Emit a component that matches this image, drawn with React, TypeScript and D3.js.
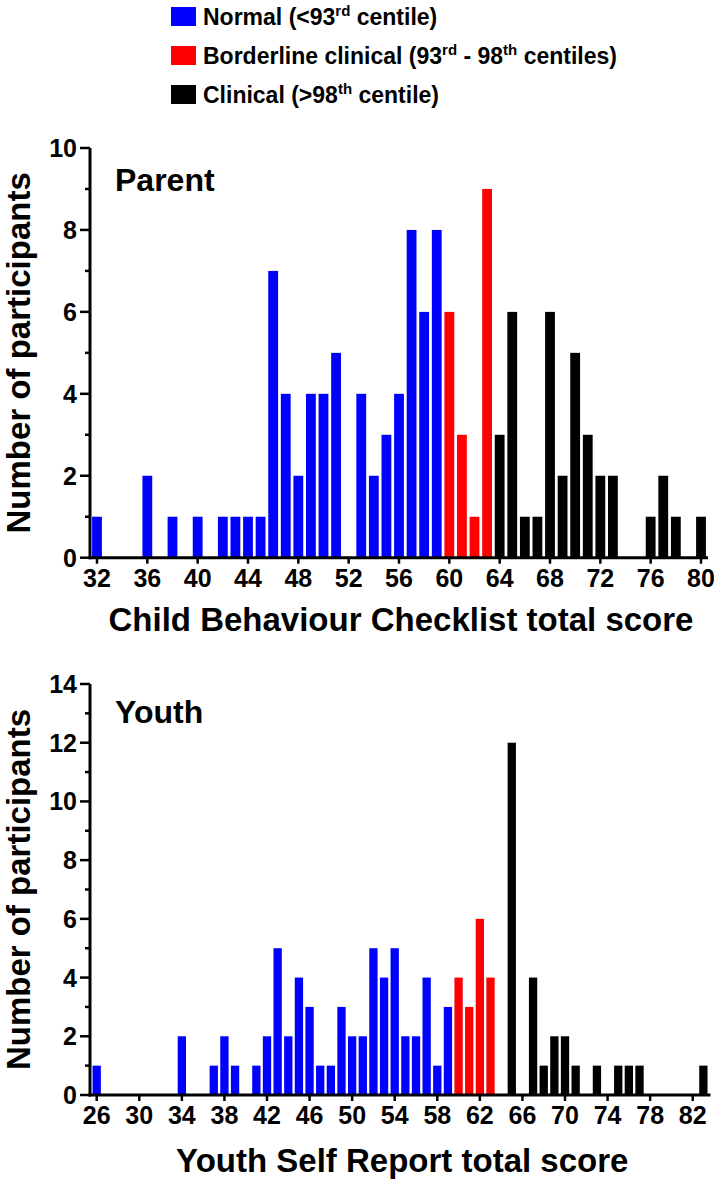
import React from "react";
import * as d3 from "d3";

// ---------- DATA ----------
const parentScore = [32, 36, 38, 40, 42, 43, 44, 45, 46, 47, 48, 49, 50, 51, 53, 54, 55, 56, 57, 58, 59, 60, 61, 62, 63, 64, 65, 66, 67, 68, 69, 70, 71, 72, 73, 76, 77, 78, 80];
const parentCount = [1, 2, 1, 1, 1, 1, 1, 1, 7, 4, 2, 4, 4, 5, 4, 2, 3, 4, 8, 6, 8, 6, 3, 1, 9, 3, 6, 1, 1, 6, 2, 5, 3, 2, 2, 1, 2, 1, 1];
const parentXTicks = [32, 36, 40, 44, 48, 52, 56, 60, 64, 68, 72, 76, 80];
const parentYTicks = [0, 2, 4, 6, 8, 10];
const parentBorderlineFrom = 60;
const parentClinicalFrom = 64;

const youthScore = [26, 34, 37, 38, 39, 41, 42, 43, 44, 45, 46, 47, 48, 49, 50, 51, 52, 53, 54, 55, 56, 57, 58, 59, 60, 61, 62, 63, 65, 67, 68, 69, 70, 71, 73, 75, 76, 77, 83];
const youthCount = [1, 2, 1, 2, 1, 1, 2, 5, 2, 4, 3, 1, 1, 3, 2, 2, 5, 4, 5, 2, 2, 4, 1, 3, 4, 3, 6, 4, 12, 4, 1, 2, 2, 1, 1, 1, 1, 1, 1];
const youthXTicks = [26, 30, 34, 38, 42, 46, 50, 54, 58, 62, 66, 70, 74, 78, 82];
const youthYTicks = [0, 2, 4, 6, 8, 10, 12, 14];
const youthBorderlineFrom = 60;
const youthClinicalFrom = 64;

const categoryNames = ["Normal", "Borderline clinical", "Clinical"];
const categoryColors = ["#0000FF", "#FF0000", "#000000"];

const FONT = "'Liberation Sans', Arial, Helvetica, sans-serif";

type PanelProps = {
  label: string;
  xTitle: string;
  scores: number[];
  counts: number[];
  xTicks: number[];
  yTicks: number[];
  borderlineFrom: number;
  clinicalFrom: number;
  xDomain: [number, number];
  xRight: number;
  yMax: number;
  top: number;
  bottom: number;
  labelBaseline: number;
  xTickBaseline: number;
  xTitleBaseline: number;
};

const LEFT = 90;

function Panel(p: PanelProps) {
  const x = d3.scaleLinear().domain(p.xDomain).range([LEFT, p.xRight]);
  const y = d3.scaleLinear().domain([0, p.yMax]).range([p.bottom, p.top]);
  const step = x(1) - x(0);
  const bw = step * 0.78;
  const cat = (s: number) => (s >= p.clinicalFrom ? 2 : s >= p.borderlineFrom ? 1 : 0);
  const minor = d3.range(1, p.yMax, 2);
  const [x0, x1] = x.range();
  return (
    <g>
      {p.scores.map((s, i) => (
        <rect
          key={s}
          x={x(s) - bw / 2}
          y={y(p.counts[i])}
          width={bw}
          height={y(0) - y(p.counts[i])}
          fill={categoryColors[cat(s)]}
        />
      ))}
      <line x1={LEFT} x2={LEFT} y1={p.top} y2={p.bottom + 1.5} stroke="#000" strokeWidth={3} />
      <line x1={LEFT - 1.5} x2={x1} y1={p.bottom} y2={p.bottom} stroke="#000" strokeWidth={3} />
      {p.yTicks.map((t) => (
        <g key={"y" + t}>
          <line x1={LEFT - 10} x2={LEFT} y1={y(t)} y2={y(t)} stroke="#000" strokeWidth={2.5} />
          <text x={77} y={y(t)} dy="0.36em" textAnchor="end" fontSize={25} fontWeight="bold" fontFamily={FONT}>
            {t}
          </text>
        </g>
      ))}
      {minor.map((t) => (
        <line key={"m" + t} x1={LEFT - 5} x2={LEFT} y1={y(t)} y2={y(t)} stroke="#000" strokeWidth={2.5} />
      ))}
      {p.xTicks.map((t) => (
        <g key={"x" + t}>
          <line x1={x(t)} x2={x(t)} y1={p.bottom} y2={p.bottom + 6} stroke="#000" strokeWidth={2.5} />
          <text x={x(t)} y={p.xTickBaseline} textAnchor="middle" fontSize={25} fontWeight="bold" fontFamily={FONT}>
            {t}
          </text>
        </g>
      ))}
      <text x={115} y={p.labelBaseline} fontSize={32} fontWeight="bold" fontFamily={FONT}>
        {p.label}
      </text>
      <text
        transform={`translate(30,${(p.top + p.bottom) / 2}) rotate(-90)`}
        textAnchor="middle"
        fontSize={33}
        fontWeight="bold"
        fontFamily={FONT}
      >
        Number of participants
      </text>
      <text x={(x0 + x1) / 2 + 2} y={p.xTitleBaseline} textAnchor="middle" fontSize={33} fontWeight="bold" fontFamily={FONT}>
        {p.xTitle}
      </text>
    </g>
  );
}

function Legend() {
  const rows: React.ReactNode[] = [
    <>
      {categoryNames[0]} (&lt;93<tspan dy="-9" fontSize={15}>rd</tspan>
      <tspan dy="9"> centile)</tspan>
    </>,
    <>
      {categoryNames[1]} (93<tspan dy="-9" fontSize={15}>rd</tspan>
      <tspan dy="9"> - 98</tspan>
      <tspan dy="-9" fontSize={15}>th</tspan>
      <tspan dy="9"> centiles)</tspan>
    </>,
    <>
      {categoryNames[2]} (&gt;98<tspan dy="-9" fontSize={15}>th</tspan>
      <tspan dy="9"> centile)</tspan>
    </>,
  ];
  return (
    <g>
      {rows.map((r, i) => (
        <g key={i} transform={`translate(0,${16.5 + i * 39})`}>
          <rect x={171} y={-9.5} width={25} height={19} fill={categoryColors[i]} />
          <text x={203} y={8} fontSize={23} fontWeight="bold" fontFamily={FONT}>
            {r}
          </text>
        </g>
      ))}
    </g>
  );
}

export default function App() {
  return (
    <svg
      width={714}
      height={1180}
      style={{ position: "absolute", left: 0, top: 0, background: "#fff" }}
      xmlns="http://www.w3.org/2000/svg"
    >
      <rect width={714} height={1180} fill="#fff" />
      <Legend />
      <Panel
        label="Parent"
        xTitle="Child Behaviour Checklist total score"
        scores={parentScore}
        counts={parentCount}
        xTicks={parentXTicks}
        yTicks={parentYTicks}
        borderlineFrom={parentBorderlineFrom}
        clinicalFrom={parentClinicalFrom}
        xDomain={[31.444, 80.556]}
        xRight={708}
        yMax={10}
        top={148}
        bottom={557.7}
        labelBaseline={191}
        xTickBaseline={587}
        xTitleBaseline={631}
      />
      <Panel
        label="Youth"
        xTitle="Youth Self Report total score"
        scores={youthScore}
        counts={youthCount}
        xTicks={youthXTicks}
        yTicks={youthYTicks}
        borderlineFrom={youthBorderlineFrom}
        clinicalFrom={youthClinicalFrom}
        xDomain={[25.37, 83.67]}
        xRight={710.5}
        yMax={14}
        top={684}
        bottom={1095}
        labelBaseline={723}
        xTickBaseline={1124}
        xTitleBaseline={1172}
      />
    </svg>
  );
}
